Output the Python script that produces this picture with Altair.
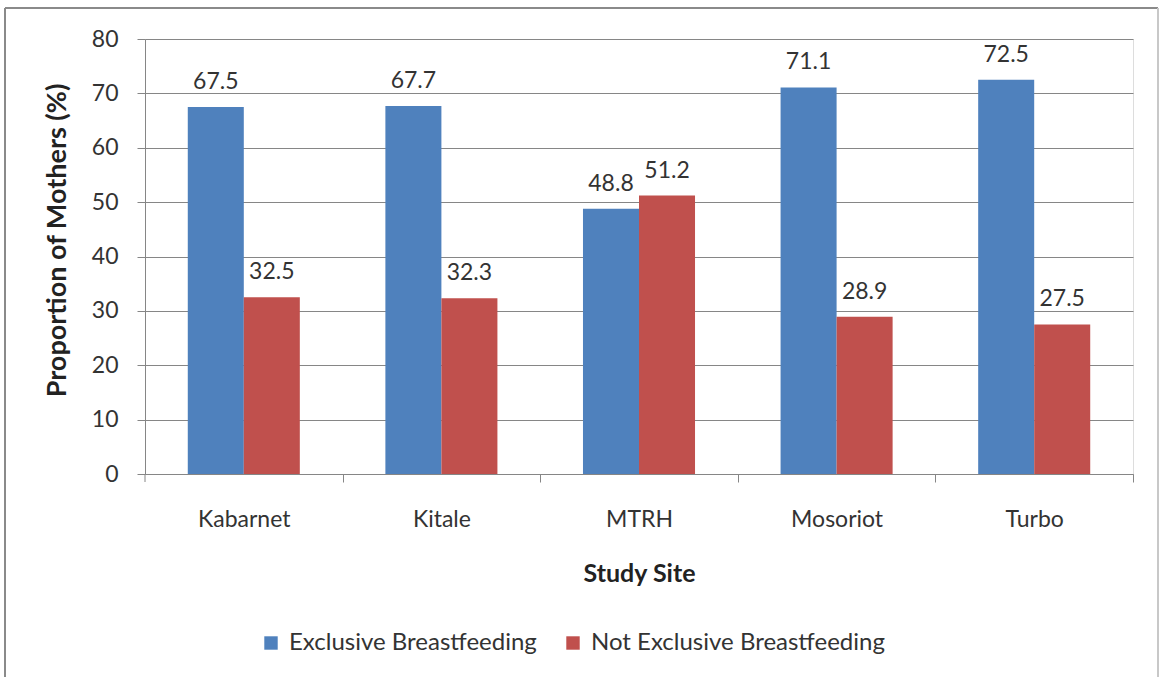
import altair as alt
import pandas as pd

sites = ["Kabarnet", "Kitale", "MTRH", "Mosoriot", "Turbo"]
exclusive = [67.5, 67.7, 48.8, 71.1, 72.5]
not_exclusive = [32.5, 32.3, 51.2, 28.9, 27.5]
series = ["Exclusive Breastfeeding", "Not Exclusive Breastfeeding"]
colors = ["#4F81BD", "#C0504D"]

rows = []
for s, a, b in zip(sites, exclusive, not_exclusive):
    rows.append({"Site": s, "Series": series[0], "Value": a})
    rows.append({"Site": s, "Series": series[1], "Value": b})
df = pd.DataFrame(rows)

FONT = "Lato"
W, H = 988, 435
STEP = W / len(sites)

x = alt.X(
    "Site:N",
    sort=sites,
    scale=alt.Scale(paddingInner=0.433, paddingOuter=0.2165),
    axis=alt.Axis(
        title="Study Site",
        tickOffset=STEP / 2,
        labelOffset=-STEP / 2,
        tickSize=8,
        labelPadding=26,
        labelAngle=0,
        labelFontSize=23,
        labelColor="#333333",
        titleFontSize=25,
        titleFontWeight="bold",
        titleColor="#222222",
        titleX=W / 2,
        titleY=99,
        titleAlign="center",
        titleBaseline="middle",
        domainColor="#868686",
        tickColor="#868686",
        grid=False,
    ),
)
xo = alt.XOffset("Series:N", sort=series, scale=alt.Scale(paddingInner=0, paddingOuter=0))
y = alt.Y(
    "Value:Q",
    scale=alt.Scale(domain=[0, 80], nice=False),
    axis=alt.Axis(
        title="Proportion of Mothers (%)",
        values=list(range(0, 81, 10)),
        tickSize=8,
        labelPadding=19,
        labelFontSize=23,
        labelColor="#333333",
        titleFontSize=27,
        titleFontWeight="bold",
        titleColor="#222222",
        titleAngle=270,
        titleX=-88,
        titleY=201,
        titleAlign="center",
        titleBaseline="middle",
        domainColor="#868686",
        tickColor="#868686",
        gridColor="#868686",
        gridWidth=1,
    ),
)

bars = alt.Chart(df).mark_bar().encode(
    x=x,
    xOffset=xo,
    y=y,
    color=alt.Color(
        "Series:N",
        sort=series,
        scale=alt.Scale(domain=series, range=colors),
        legend=alt.Legend(
            title=None,
            orient="none",
            direction="horizontal",
            legendX=114,
            legendY=592,
            symbolType="square",
            symbolSize=180,
            symbolStrokeWidth=0,
            labelFontSize=24,
            labelColor="#333333",
            labelLimit=0,
            columnPadding=24,
            labelOffset=6,
        ),
    ),
)

labels = alt.Chart(df).mark_text(
    dy=-25, fontSize=23, color="#333333", font=FONT, baseline="middle"
).encode(
    x=alt.X("Site:N", sort=sites),
    xOffset=xo,
    y="Value:Q",
    text=alt.Text("Value:Q", format=".1f"),
)

frame_df = pd.DataFrame({"k": [0]})
left_tick = alt.Chart(frame_df).mark_rule(color="#868686", strokeWidth=1).encode(
    x=alt.value(0), y=alt.value(H), y2=alt.value(H + 8)
)
left = alt.Chart(frame_df).mark_rule(color="#8a8a8a", strokeWidth=2).encode(
    x=alt.value(-140), y=alt.value(-31), y2=alt.value(700)
)
top = alt.Chart(frame_df).mark_rule(color="#8a8a8a", strokeWidth=2).encode(
    x=alt.value(-140), x2=alt.value(1013), y=alt.value(-31)
)
right = alt.Chart(frame_df).mark_rule(color="#c8c8c8", strokeWidth=2).encode(
    x=alt.value(1013), y=alt.value(-31), y2=alt.value(700)
)

chart = (
    alt.layer(bars, labels, left_tick, left, top, right)
    .properties(
        width=W,
        height=H,
        autosize=alt.AutoSizeParams(type="none"),
        padding={"left": 145, "top": 39, "right": 27, "bottom": 203},
        background="white",
    )
    .configure_view(stroke=None)
    .configure(font=FONT)
    .configure_axis(labelFont=FONT, titleFont=FONT)
    .configure_legend(labelFont=FONT)
)

chart.save("out.html", embed_options={"renderer": "svg", "actions": False})
